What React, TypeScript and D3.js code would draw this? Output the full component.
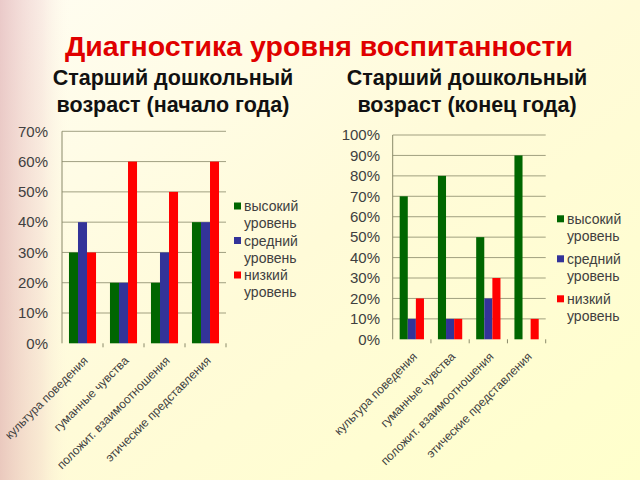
import React from "react";
import * as d3 from "d3";

const categories = [
  "культура поведения",
  "гуманные чувства",
  "положит. взаимоотношения",
  "этические представления",
];
const seriesNames = ["высокий уровень", "средний уровень", "низкий уровень"];
const seriesColors = ["#006600", "#333399", "#ff0000"];

// start of year (values in %)
const startHigh = [30, 20, 20, 40];
const startMid = [40, 20, 30, 40];
const startLow = [30, 60, 50, 60];
// end of year
const endHigh = [70, 80, 50, 90];
const endMid = [10, 10, 20, 0];
const endLow = [20, 10, 30, 10];

const startTicks = [0, 10, 20, 30, 40, 50, 60, 70];
const endTicks = [0, 10, 20, 30, 40, 50, 60, 70, 80, 90, 100];

const title = "Диагностика уровня воспитанности";
const leftSubtitle = ["Старший дошкольный", "возраст (начало года)"];
const rightSubtitle = ["Старший дошкольный", "возраст (конец года)"];

const FONT = "'Liberation Sans', Arial, sans-serif";

type ChartProps = {
  data: number[][];
  ticks: number[];
  x0: number;
  x1: number;
  yTop: number;
  yBottom: number;
  maxV: number;
  pad: number;
  tickLabelX: number;
  legendX: number;
  legendY: number;
  legendGap: number;
};

function Chart(p: ChartProps) {
  const x = d3.scaleBand<string>().domain(categories).range([p.x0, p.x1]).paddingInner(p.pad).paddingOuter(p.pad / 2);
  const xs = d3.scaleBand<number>().domain([0, 1, 2]).range([0, x.bandwidth()]);
  const y = d3.scaleLinear().domain([0, p.maxV]).range([p.yBottom, p.yTop]);
  const step = x.step();
  return (
    <g>
      {p.ticks.map((t) => (
        <g key={t}>
          {t > 0 && (
            <line x1={p.x0} x2={p.x1} y1={y(t)} y2={y(t)} stroke="#8a8a6a" strokeWidth={1} strokeOpacity={0.8} />
          )}
          <text x={p.tickLabelX} y={y(t)} dy="0.35em" textAnchor="end" fontSize={15} fill="#404040" fontFamily={FONT}>
            {t}%
          </text>
        </g>
      ))}
      <line x1={p.x0} x2={p.x0} y1={p.yTop} y2={p.yBottom} stroke="#8a8a6a" strokeWidth={1} />
      {categories.map((c, i) => (
        <line key={c} x1={p.x0 + step * (i + 1)} x2={p.x0 + step * (i + 1)} y1={p.yBottom} y2={p.yBottom + 4} stroke="#8a8a6a" />
      ))}
      {categories.map((c, ci) => (
        <g key={c} transform={`translate(${x(c)},0)`}>
          {p.data.map((s, si) =>
            s[ci] > 0 ? (
              <rect
                key={si}
                x={xs(si)}
                width={xs.bandwidth()}
                y={y(s[ci])}
                height={p.yBottom - y(s[ci])}
                fill={seriesColors[si]}
              />
            ) : null
          )}
        </g>
      ))}
      {categories.map((c) => {
        const cx = (x(c) as number) + x.bandwidth() / 2 + 6;
        const cy = p.yBottom + 18;
        return (
          <text
            key={c}
            transform={`translate(${cx},${cy}) rotate(-45)`}
            textAnchor="end"
            fontSize={12}
            fill="#404040"
            fontFamily={FONT}
          >
            {c}
          </text>
        );
      })}
      {seriesNames.map((n, i) => {
        const [a, b] = n.split(" ");
        const ly = p.legendY + i * p.legendGap;
        return (
          <g key={n}>
            <rect x={p.legendX} y={ly - 4} width={7} height={7} fill={seriesColors[i]} />
            <text x={p.legendX + 10} y={ly} dy="0.35em" fontSize={14} fill="#404040" fontFamily={FONT}>
              {a}
            </text>
            <text x={p.legendX + 10} y={ly + 17} dy="0.35em" fontSize={14} fill="#404040" fontFamily={FONT}>
              {b}
            </text>
          </g>
        );
      })}
    </g>
  );
}

export default function App() {
  return (
    <svg
      width={640}
      height={480}
      style={{ position: "absolute", left: 0, top: 0, display: "block" }}
    >
      <defs>
        <linearGradient id="bg" x1="0" y1="0" x2="1" y2="1">
          <stop offset="0" stopColor="#fffdf2" />
          <stop offset="0.5" stopColor="#fffbd8" />
          <stop offset="1" stopColor="#ffffcc" />
        </linearGradient>
        <linearGradient id="leftStrip" x1="0" y1="0" x2="1" y2="0">
          <stop offset="0" stopColor="#d9a0a8" stopOpacity={0.55} />
          <stop offset="0.6" stopColor="#e8b8c0" stopOpacity={0.25} />
          <stop offset="1" stopColor="#fff5e0" stopOpacity={0} />
        </linearGradient>
      </defs>
      <rect width={640} height={480} fill="url(#bg)" />
      <rect x={0} y={0} width={70} height={480} fill="url(#leftStrip)" />
      <text x={319} y={56} textAnchor="middle" fontSize={28.5} fontWeight="bold" fill="#e00000" fontFamily={FONT}>
        {title}
      </text>
      {leftSubtitle.map((s, i) => (
        <text key={i} x={173} y={85 + i * 27} textAnchor="middle" fontSize={21.5} fontWeight="bold" fill="#111" fontFamily={FONT}>
          {s}
        </text>
      ))}
      {rightSubtitle.map((s, i) => (
        <text key={i} x={467} y={85 + i * 27} textAnchor="middle" fontSize={21.5} fontWeight="bold" fill="#111" fontFamily={FONT}>
          {s}
        </text>
      ))}
      <Chart
        data={[startHigh, startMid, startLow]}
        ticks={startTicks}
        x0={62}
        x1={226}
        yTop={131.3}
        yBottom={343.3}
        maxV={70}
        pad={0.34}
        tickLabelX={48}
        legendX={234}
        legendY={206.5}
        legendGap={34.5}
      />
      <Chart
        data={[endHigh, endMid, endLow]}
        ticks={endTicks}
        x0={392.7}
        x1={545.7}
        yTop={135}
        yBottom={339.3}
        maxV={100}
        pad={0.365}
        tickLabelX={380}
        legendX={557}
        legendY={219.3}
        legendGap={40}
      />
    </svg>
  );
}
